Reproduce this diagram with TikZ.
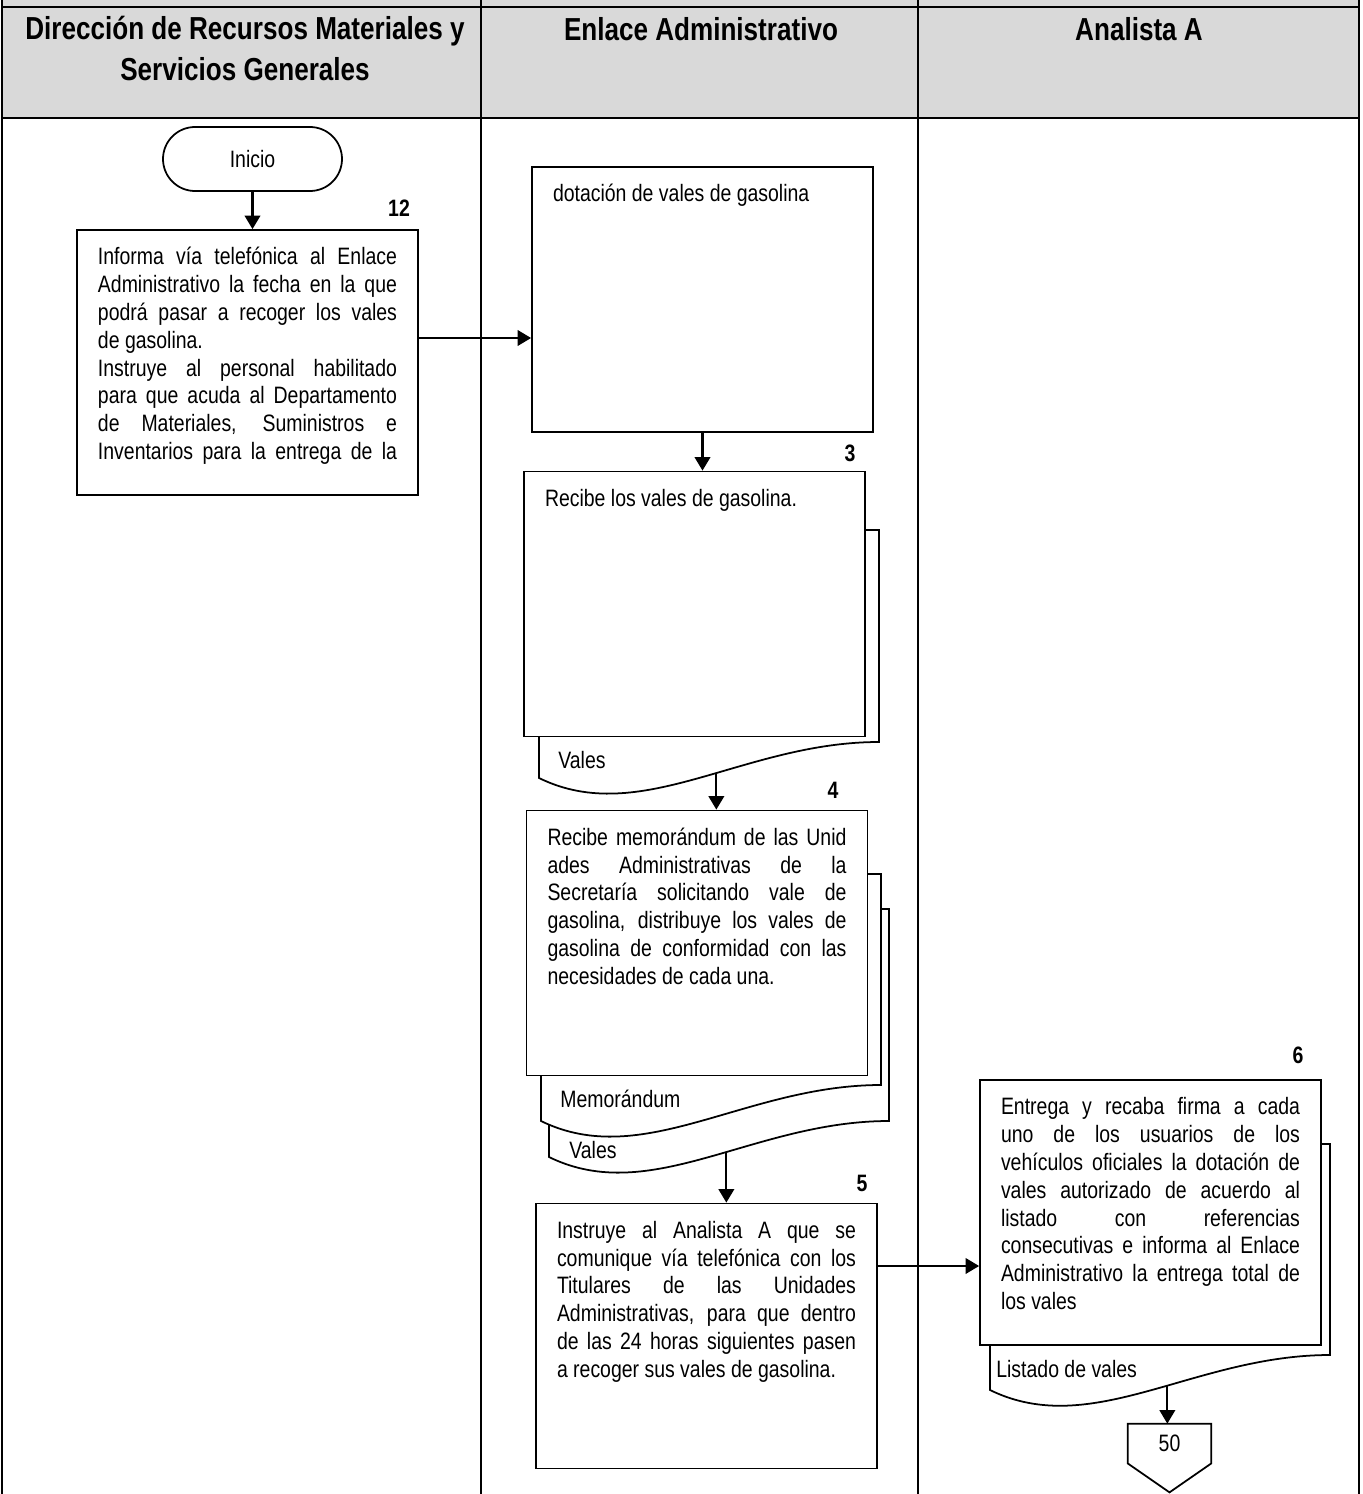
\documentclass[tikz,border=0pt]{standalone}
\usepackage{fontspec}
\setmainfont{Liberation Sans}[FakeStretch=0.82]
\usetikzlibrary{arrows.meta,positioning,calc}
\definecolor{hdrgray}{HTML}{D9D9D9}
\newcommand{\jline}[1]{\makebox[\linewidth][s]{#1}}
\newcommand{\boxtxt}[1]{\parbox[c][46.8mm][t]{59.8mm}{\strut#1}}
% back sheet of a document symbol: name, left, right, top, left bottom, right bottom
\newcommand{\docsheet}[6]{%
  \draw[sheet] (#2,#4) -- (#3,#4) -- (#3,#6)
    .. controls ({#2+0.6*(#3-#2)},#6) and ({#2+0.3*(#3-#2)},{#5+50}) .. coordinate[pos=0.44] (#1) (#2,#5) -- cycle;}
\tikzset{
  lane/.style   ={line width=1.1pt},
  hdr/.style    ={font=\fontsize{18.1}{22.8}\selectfont\bfseries, align=center, inner sep=0pt},
  proc/.style   ={draw, line width=1pt, fill=white, minimum width=68.2mm, minimum height=53mm, inner sep=0pt},
  term/.style   ={draw, line width=1pt, rounded corners=6.4mm, minimum width=35.8mm, minimum height=12.8mm},
  sheet/.style  ={draw, line width=1pt, fill=white},
  arr/.style    ={-{Triangle[length=2.7mm,width=3.1mm]}, line width=1.2pt},
  num/.style    ={font=\fontsize{13.5}{15.8}\selectfont\bfseries, inner sep=0pt},
  doclbl/.style ={anchor=base west, inner sep=0pt},
}
\begin{document}
\begin{tikzpicture}[x=0.2mm, y=-0.2mm, font=\fontsize{13.5}{15.8}\selectfont]
  \useasboundingbox (0,0) rectangle (1362,1494);
  % lanes
  \fill[hdrgray] (2,0) rectangle (1359,118);
  \foreach \x in {2,481,918,1359}
    \draw[lane] (\x,0) -- (\x,1494);
  \draw[line width=1.7pt] (2,7) -- (1359,7);
  \draw[lane] (2,118) -- (1359,118);
  \node[hdr, anchor=base] (hDir) at (245,80) {Dirección de Recursos Materiales y\\Servicios Generales};
  \node[hdr, anchor=base] (hEnl) at (701,40) {Enlace Administrativo};
  \node[hdr, anchor=base] (hAna) at (1139,40) {Analista A};

  % Direccion de Recursos Materiales
  \node[term] (inicio) at (252.5,159) {Inicio};
  \node[proc] (s1) at (247.5,362.5) {\boxtxt{%
    \jline{Informa vía telefónica al Enlace}\\
    \jline{Administrativo la fecha en la que}\\
    \jline{podrá pasar a recoger los vales}\\
    de gasolina.\\
    \jline{Instruye al personal habilitado}\\
    \jline{para que acuda al Departamento}\\
    \jline{de Materiales, Suministros e}\\
    \jline{Inventarios para la entrega de la}}};
  \node[num] (n12) at (399,208) {12};

  % Enlace Administrativo
  \node[proc] (s2) at (702.5,299.5) {\boxtxt{dotación de vales de gasolina}};
  \docsheet{d3}{539}{879}{530}{778}{742}
  \node[proc] (s3) at (694.5,604) {\boxtxt{Recibe los vales de gasolina.}};
  \node[doclbl] (l3) at (558,768) {Vales};
  \node[num] (n3) at (850,453) {3};
  \docsheet{d4b}{549}{889}{909}{1157}{1121}
  \docsheet{d4a}{541}{881}{874}{1121}{1085}
  \node[proc] (s4) at (697,943) {\boxtxt{%
    \jline{Recibe memorándum de las Unid}\\
    \jline{ades Administrativas de la}\\
    \jline{Secretaría solicitando vale de}\\
    \jline{gasolina, distribuye los vales de}\\
    \jline{gasolina de conformidad con las}\\
    necesidades de cada una.}};
  \node[doclbl] (l4a) at (560,1107) {Memorándum};
  \node[doclbl] (l4b) at (569,1158) {Vales};
  \node[num] (n4) at (833,790) {4};
  \node[proc] (s5) at (706.5,1336) {\boxtxt{%
    \jline{Instruye al Analista A que se}\\
    \jline{comunique vía telefónica con los}\\
    \jline{Titulares de las Unidades}\\
    \jline{Administrativas, para que dentro}\\
    \jline{de las 24 horas siguientes pasen}\\
    a recoger sus vales de gasolina.}};
  \node[num] (n5) at (862,1183) {5};

  % Analista A
  \docsheet{d6}{990}{1330}{1144}{1390}{1355}
  \node[proc] (s6) at (1150.5,1212.5) {\boxtxt{%
    \jline{Entrega y recaba firma a cada}\\
    \jline{uno de los usuarios de los}\\
    \jline{vehículos oficiales la dotación de}\\
    \jline{vales autorizado de acuerdo al}\\
    \jline{listado con referencias}\\
    \jline{consecutivas e informa al Enlace}\\
    \jline{Administrativo la entrega total de}\\
    los vales}};
  \node[doclbl] (l6) at (996,1377) {Listado de vales};
  \node[num] (n6) at (1298,1055) {6};
  \node[minimum width=16.6mm, minimum height=7.8mm, inner sep=0pt] (off50) at (1169.5,1443.5) {50};
  \draw[line width=1pt] (off50.north west) -- (off50.north east) -- (off50.south east)
    -- ([yshift=-5.8mm]off50.south) -- (off50.south west) -- cycle;

  % flow
  \draw[arr] (inicio.south) -- (inicio.south |- s1.north);
  \draw[arr] ([yshift=4.9mm]s1.east) -- ([yshift=4.9mm]s1.east -| s2.west);
  \draw[arr] (s2.south) -- (s2.south |- s3.north);
  \draw[arr] (d3) -- (d3 |- s4.north);
  \draw[arr] (d4b) -- (d4b |- s5.north);
  \draw[arr] ([yshift=14mm]s5.east) -- ([yshift=14mm]s5.east -| s6.west);
  \draw[arr] (d6) -- (d6 |- off50.north);
\end{tikzpicture}
\end{document}
